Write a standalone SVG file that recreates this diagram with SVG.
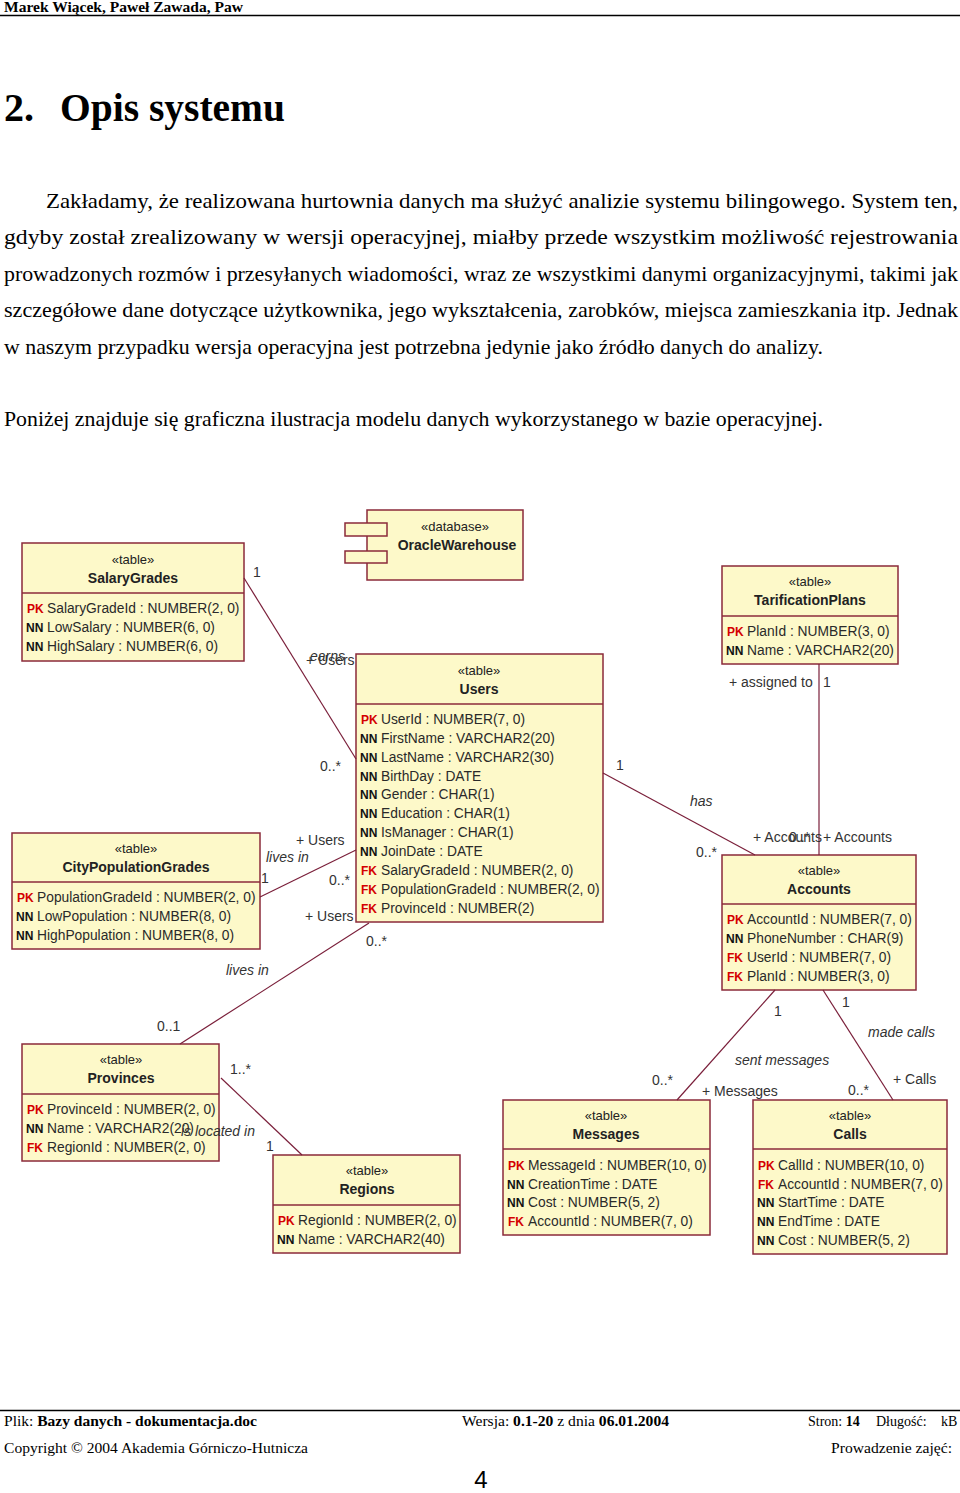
<svg xmlns="http://www.w3.org/2000/svg" width="960" height="1493" viewBox="0 0 960 1493">
<style>
.hdr{font-family:"Liberation Serif","Times New Roman",serif;font-weight:bold;font-size:15.5px;fill:#000}
.title{font-family:"Liberation Serif","Times New Roman",serif;font-weight:bold;font-size:40px;fill:#000}
.p{font-family:"Liberation Serif","Times New Roman",serif;font-size:21.5px;fill:#000}
.ft{font-family:"Liberation Serif","Times New Roman",serif;font-size:14px;fill:#000}
.ftb{font-weight:bold}
.pg{font-family:"Liberation Sans",Arial,sans-serif;font-size:24px;fill:#000}
.box{fill:#fdf9c9;stroke:#8b2a3a;stroke-width:1.5}
.sep{stroke:#8b2a3a;stroke-width:1.5}
.st{font-family:"Liberation Sans",Arial,sans-serif;font-size:13px;fill:#222;text-anchor:middle}
.nm{font-family:"Liberation Sans",Arial,sans-serif;font-size:14px;font-weight:bold;fill:#222;text-anchor:middle}
.at{font-family:"Liberation Sans",Arial,sans-serif;font-size:13.8px;fill:#2a2a2a}
.pk{font-family:"Liberation Sans",Arial,sans-serif;font-size:12px;font-weight:bold;fill:#d40000}
.nn{font-family:"Liberation Sans",Arial,sans-serif;font-size:12px;font-weight:bold;fill:#111}
.cn{stroke:#7a1f3a;stroke-width:1.2;fill:none}
.lb{font-family:"Liberation Sans",Arial,sans-serif;font-size:14px;fill:#333}
.li{font-family:"Liberation Sans",Arial,sans-serif;font-size:14px;font-style:italic;fill:#333}
</style>

<g id="page-header">
<text class="hdr" x="4" y="12" textLength="239" lengthAdjust="spacingAndGlyphs">Marek Wiącek, Paweł Zawada, Paw</text>
<line x1="0" y1="15.5" x2="960" y2="15.5" stroke="#000" stroke-width="1.5"/>
</g>

<g id="title">
<text class="title" x="4" y="121">2.</text>
<text class="title" x="60" y="121" textLength="225" lengthAdjust="spacingAndGlyphs">Opis systemu</text>
</g>

<g id="body-text">
<text class="p" x="46" y="208" textLength="912" lengthAdjust="spacingAndGlyphs">Zakładamy, że realizowana hurtownia danych ma służyć analizie systemu bilingowego. System ten,</text>
<text class="p" x="4" y="244" textLength="954" lengthAdjust="spacingAndGlyphs">gdyby został zrealizowany w wersji operacyjnej, miałby przede wszystkim możliwość rejestrowania</text>
<text class="p" x="4" y="281" textLength="954" lengthAdjust="spacingAndGlyphs">prowadzonych rozmów i przesyłanych wiadomości, wraz ze wszystkimi danymi organizacyjnymi, takimi jak</text>
<text class="p" x="4" y="317" textLength="954" lengthAdjust="spacingAndGlyphs">szczegółowe dane dotyczące użytkownika, jego wykształcenia, zarobków, miejsca zamieszkania itp. Jednak</text>
<text class="p" x="4" y="354" textLength="819" lengthAdjust="spacingAndGlyphs">w naszym przypadku wersja operacyjna jest potrzebna jedynie jako źródło danych do analizy.</text>
<text class="p" x="4" y="426" textLength="819" lengthAdjust="spacingAndGlyphs">Poniżej znajduje się graficzna ilustracja modelu danych wykorzystanego w bazie operacyjnej.</text>
</g>

<g id="OracleWarehouse">
<rect class="box" x="367" y="510" width="156" height="70"/>
<rect class="box" x="345" y="523" width="42" height="13"/>
<rect class="box" x="345" y="551" width="42" height="12"/>
<text class="st" x="455" y="531">«database»</text>
<text class="nm" x="457" y="550">OracleWarehouse</text>
</g>

<g id="SalaryGrades">
<rect class="box" x="22" y="543" width="222" height="118"/>
<line class="sep" x1="22" y1="593" x2="244" y2="593"/>
<text class="st" x="133" y="564">«table»</text>
<text class="nm" x="133" y="583">SalaryGrades</text>
<text class="pk" x="27" y="613">PK</text><text class="at" x="47" y="613">SalaryGradeId : NUMBER(2, 0)</text>
<text class="nn" x="26" y="632">NN</text><text class="at" x="47" y="632">LowSalary : NUMBER(6, 0)</text>
<text class="nn" x="26" y="651">NN</text><text class="at" x="47" y="651">HighSalary : NUMBER(6, 0)</text>
</g>

<g id="TarificationPlans">
<rect class="box" x="722" y="566" width="176" height="98"/>
<line class="sep" x1="722" y1="616" x2="898" y2="616"/>
<text class="st" x="810" y="586">«table»</text>
<text class="nm" x="810" y="605">TarificationPlans</text>
<text class="pk" x="727" y="636">PK</text><text class="at" x="747" y="636">PlanId : NUMBER(3, 0)</text>
<text class="nn" x="726" y="655">NN</text><text class="at" x="747" y="655">Name : VARCHAR2(20)</text>
</g>

<g id="Users">
<rect class="box" x="356" y="654" width="247" height="268"/>
<line class="sep" x1="356" y1="704" x2="603" y2="704"/>
<text class="st" x="479" y="675">«table»</text>
<text class="nm" x="479" y="694">Users</text>
<text class="pk" x="361" y="724">PK</text><text class="at" x="381" y="724">UserId : NUMBER(7, 0)</text>
<text class="nn" x="360" y="743">NN</text><text class="at" x="381" y="743">FirstName : VARCHAR2(20)</text>
<text class="nn" x="360" y="762">NN</text><text class="at" x="381" y="762">LastName : VARCHAR2(30)</text>
<text class="nn" x="360" y="781">NN</text><text class="at" x="381" y="781">BirthDay : DATE</text>
<text class="nn" x="360" y="799">NN</text><text class="at" x="381" y="799">Gender : CHAR(1)</text>
<text class="nn" x="360" y="818">NN</text><text class="at" x="381" y="818">Education : CHAR(1)</text>
<text class="nn" x="360" y="837">NN</text><text class="at" x="381" y="837">IsManager : CHAR(1)</text>
<text class="nn" x="360" y="856">NN</text><text class="at" x="381" y="856">JoinDate : DATE</text>
<text class="pk" x="361" y="875">FK</text><text class="at" x="381" y="875">SalaryGradeId : NUMBER(2, 0)</text>
<text class="pk" x="361" y="894">FK</text><text class="at" x="381" y="894">PopulationGradeId : NUMBER(2, 0)</text>
<text class="pk" x="361" y="913">FK</text><text class="at" x="381" y="913">ProvinceId : NUMBER(2)</text>
</g>

<g id="CityPopulationGrades">
<rect class="box" x="12" y="833" width="248" height="116"/>
<line class="sep" x1="12" y1="882" x2="260" y2="882"/>
<text class="st" x="136" y="853">«table»</text>
<text class="nm" x="136" y="872">CityPopulationGrades</text>
<text class="pk" x="17" y="902">PK</text><text class="at" x="37" y="902">PopulationGradeId : NUMBER(2, 0)</text>
<text class="nn" x="16" y="921">NN</text><text class="at" x="37" y="921">LowPopulation : NUMBER(8, 0)</text>
<text class="nn" x="16" y="940">NN</text><text class="at" x="37" y="940">HighPopulation : NUMBER(8, 0)</text>
</g>

<g id="Accounts">
<rect class="box" x="722" y="855" width="194" height="135"/>
<line class="sep" x1="722" y1="904" x2="916" y2="904"/>
<text class="st" x="819" y="875">«table»</text>
<text class="nm" x="819" y="894">Accounts</text>
<text class="pk" x="727" y="924">PK</text><text class="at" x="747" y="924">AccountId : NUMBER(7, 0)</text>
<text class="nn" x="726" y="943">NN</text><text class="at" x="747" y="943">PhoneNumber : CHAR(9)</text>
<text class="pk" x="727" y="962">FK</text><text class="at" x="747" y="962">UserId : NUMBER(7, 0)</text>
<text class="pk" x="727" y="981">FK</text><text class="at" x="747" y="981">PlanId : NUMBER(3, 0)</text>
</g>

<g id="Provinces">
<rect class="box" x="22" y="1044" width="197" height="117"/>
<line class="sep" x1="22" y1="1094" x2="219" y2="1094"/>
<text class="st" x="121" y="1064">«table»</text>
<text class="nm" x="121" y="1083">Provinces</text>
<text class="pk" x="27" y="1114">PK</text><text class="at" x="47" y="1114">ProvinceId : NUMBER(2, 0)</text>
<text class="nn" x="26" y="1133">NN</text><text class="at" x="47" y="1133">Name : VARCHAR2(20)</text>
<text class="pk" x="27" y="1152">FK</text><text class="at" x="47" y="1152">RegionId : NUMBER(2, 0)</text>
</g>

<g id="Regions">
<rect class="box" x="273" y="1155" width="187" height="98"/>
<line class="sep" x1="273" y1="1205" x2="460" y2="1205"/>
<text class="st" x="367" y="1175">«table»</text>
<text class="nm" x="367" y="1194">Regions</text>
<text class="pk" x="278" y="1225">PK</text><text class="at" x="298" y="1225">RegionId : NUMBER(2, 0)</text>
<text class="nn" x="277" y="1244">NN</text><text class="at" x="298" y="1244">Name : VARCHAR2(40)</text>
</g>

<g id="Messages">
<rect class="box" x="503" y="1100" width="207" height="135"/>
<line class="sep" x1="503" y1="1149" x2="710" y2="1149"/>
<text class="st" x="606" y="1120">«table»</text>
<text class="nm" x="606" y="1139">Messages</text>
<text class="pk" x="508" y="1170">PK</text><text class="at" x="528" y="1170">MessageId : NUMBER(10, 0)</text>
<text class="nn" x="507" y="1189">NN</text><text class="at" x="528" y="1189">CreationTime : DATE</text>
<text class="nn" x="507" y="1207">NN</text><text class="at" x="528" y="1207">Cost : NUMBER(5, 2)</text>
<text class="pk" x="508" y="1226">FK</text><text class="at" x="528" y="1226">AccountId : NUMBER(7, 0)</text>
</g>

<g id="Calls">
<rect class="box" x="753" y="1100" width="194" height="154"/>
<line class="sep" x1="753" y1="1149" x2="947" y2="1149"/>
<text class="st" x="850" y="1120">«table»</text>
<text class="nm" x="850" y="1139">Calls</text>
<text class="pk" x="758" y="1170">PK</text><text class="at" x="778" y="1170">CallId : NUMBER(10, 0)</text>
<text class="pk" x="758" y="1189">FK</text><text class="at" x="778" y="1189">AccountId : NUMBER(7, 0)</text>
<text class="nn" x="757" y="1207">NN</text><text class="at" x="778" y="1207">StartTime : DATE</text>
<text class="nn" x="757" y="1226">NN</text><text class="at" x="778" y="1226">EndTime : DATE</text>
<text class="nn" x="757" y="1245">NN</text><text class="at" x="778" y="1245">Cost : NUMBER(5, 2)</text>
</g>

<g id="connectors">
<line class="cn" x1="244" y1="578" x2="356" y2="759"/>
<line class="cn" x1="260" y1="897" x2="356" y2="850"/>
<line class="cn" x1="369" y1="923" x2="180" y2="1044"/>
<line class="cn" x1="221" y1="1078" x2="302" y2="1155"/>
<line class="cn" x1="603" y1="773" x2="755" y2="855"/>
<line class="cn" x1="819" y1="664" x2="819" y2="855"/>
<line class="cn" x1="775" y1="990" x2="677" y2="1100"/>
<line class="cn" x1="823" y1="990" x2="893" y2="1100"/>

<text class="lb" x="253" y="577">1</text>
<text class="li" x="310" y="661">earns</text>
<text class="lb" x="306" y="665">+ Users</text>
<text class="lb" x="320" y="771">0..*</text>

<text class="lb" x="296" y="845">+ Users</text>
<text class="li" x="266" y="862">lives in</text>
<text class="lb" x="261" y="883">1</text>
<text class="lb" x="329" y="885">0..*</text>

<text class="lb" x="305" y="921">+ Users</text>
<text class="lb" x="366" y="946">0..*</text>
<text class="li" x="226" y="975">lives in</text>
<text class="lb" x="157" y="1031">0..1</text>

<text class="lb" x="230" y="1074">1..*</text>
<text class="li" x="181" y="1136">is located in</text>
<text class="lb" x="266" y="1151">1</text>

<text class="lb" x="616" y="770">1</text>
<text class="li" x="690" y="806">has</text>
<text class="lb" x="696" y="857">0..*</text>

<text class="lb" x="729" y="687">+ assigned to</text>
<text class="lb" x="823" y="687">1</text>
<text class="lb" x="753" y="842">+ Accounts</text>
<text class="lb" x="789" y="842">0..*</text>
<text class="lb" x="823" y="842">+ Accounts</text>

<text class="lb" x="774" y="1016">1</text>
<text class="li" x="735" y="1065">sent messages</text>
<text class="lb" x="652" y="1085">0..*</text>
<text class="lb" x="702" y="1096">+ Messages</text>

<text class="lb" x="842" y="1007">1</text>
<text class="li" x="868" y="1037">made calls</text>
<text class="lb" x="893" y="1084">+ Calls</text>
<text class="lb" x="848" y="1095">0..*</text>
</g>

<g id="page-footer">
<line x1="0" y1="1410.5" x2="960" y2="1410.5" stroke="#000" stroke-width="1.5"/>
<text class="ft" x="4" y="1426" textLength="253" lengthAdjust="spacingAndGlyphs">Plik: <tspan class="ftb">Bazy danych - dokumentacja.doc</tspan></text>
<text class="ft" x="462" y="1426" textLength="207" lengthAdjust="spacingAndGlyphs">Wersja: <tspan class="ftb">0.1-20</tspan> z dnia <tspan class="ftb">06.01.2004</tspan></text>
<text class="ft" x="808" y="1426">Stron: <tspan class="ftb">14</tspan></text>
<text class="ft" x="876" y="1426">Długość:</text>
<text class="ft" x="941" y="1426">kB</text>
<text class="ft" x="4" y="1453" textLength="304" lengthAdjust="spacingAndGlyphs">Copyright © 2004 Akademia Górniczo-Hutnicza</text>
<text class="ft" x="831" y="1453" textLength="121" lengthAdjust="spacingAndGlyphs">Prowadzenie zajęć:</text>
<text class="pg" x="481" y="1488" text-anchor="middle">4</text>
</g>
</svg>
